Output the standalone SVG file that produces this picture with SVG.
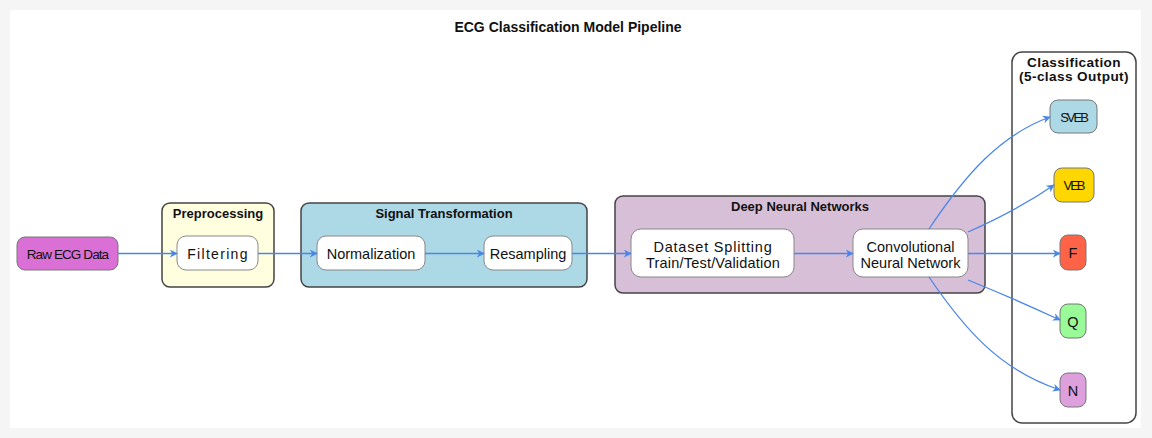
<svg xmlns="http://www.w3.org/2000/svg" width="1152" height="438" viewBox="0 0 1152 438">
<defs>
<marker id="ah" viewBox="0 0 10 10" refX="9" refY="5" markerWidth="8" markerHeight="8" markerUnits="userSpaceOnUse" orient="auto">
<path d="M0,0 L10,5 L0,10 L3,5 z" fill="#4a86e8"/>
</marker>
<style>
text{font-family:"Liberation Sans",Arial,sans-serif;fill:#111}
.cl{stroke:#444;stroke-width:1.5}
.nd{stroke:#777;stroke-width:1}
.wn{fill:#fff;stroke:#888;stroke-width:1}
.ct{font-size:13px;font-weight:bold;text-anchor:middle}
.nt{font-size:14.5px;text-anchor:middle}
.e{fill:none;stroke:#4a86e8;stroke-width:1.3;marker-end:url(#ah)}
</style>
</defs>
<rect x="0" y="0" width="1152" height="438" fill="#f5f5f5"/>
<rect x="10" y="10" width="1131" height="418" fill="#ffffff"/>
<text x="568" y="32" class="ct" style="font-size:14px">ECG Classification Model Pipeline</text>

<g id="preprocessing">
<rect x="162" y="203" width="112" height="84" rx="8" fill="#ffffe0" class="cl"/>
<text x="218" y="218" class="ct">Preprocessing</text>
</g>
<g id="signal_transformation">
<rect x="301" y="203" width="286" height="84" rx="8" fill="#add8e6" class="cl"/>
<text x="444" y="218" class="ct">Signal Transformation</text>
</g>
<g id="deep_neural_networks">
<rect x="615" y="196" width="370" height="97" rx="8" fill="#d8bfd8" class="cl"/>
<text x="800" y="211" class="ct">Deep Neural Networks</text>
</g>
<g id="classification">
<rect x="1012" y="52" width="124" height="371" rx="10" fill="#ffffff" class="cl"/>
<text x="1074" y="67" class="ct" style="font-size:13.6px" letter-spacing="0.4">Classification</text>
<text x="1074" y="81" class="ct" style="font-size:13.6px" letter-spacing="0.4">(5-class Output)</text>
</g>

<g id="raw_ecg">
<rect x="17" y="237" width="101" height="33" rx="8" fill="#da70d6" class="nd"/>
<text x="67.5" y="258.5" class="nt" style="font-size:13.5px" letter-spacing="-0.9">Raw ECG Data</text>
</g>
<g id="filtering">
<rect x="177" y="236" width="81" height="34" rx="9" class="wn"/>
<text x="218" y="258.5" class="nt" style="font-size:14px" letter-spacing="1.3">Filtering</text>
</g>
<g id="normalization">
<rect x="317" y="236" width="108" height="34" rx="9" class="wn"/>
<text x="371" y="258.5" class="nt">Normalization</text>
</g>
<g id="resampling">
<rect x="484" y="236" width="88" height="34" rx="9" class="wn"/>
<text x="528" y="258.5" class="nt">Resampling</text>
</g>
<g id="dataset_splitting">
<rect x="631" y="229" width="163" height="48" rx="10" class="wn"/>
<text x="713" y="251.5" class="nt" letter-spacing="0.8">Dataset Splitting</text>
<text x="713" y="268" class="nt" letter-spacing="0.2">Train/Test/Validation</text>
</g>
<g id="cnn">
<rect x="853" y="229" width="115" height="48" rx="10" class="wn"/>
<text x="910.5" y="251.5" class="nt">Convolutional</text>
<text x="910.5" y="268" class="nt">Neural Network</text>
</g>
<g id="sveb">
<rect x="1050" y="100" width="47" height="33" rx="8" fill="#add8e6" class="nd"/>
<text x="1073.5" y="121.5" class="nt" style="font-size:13px" letter-spacing="-2">SVEB</text>
</g>
<g id="veb">
<rect x="1054" y="168" width="40" height="34" rx="8" fill="#ffd700" class="nd"/>
<text x="1073.5" y="190" class="nt" style="font-size:13px" letter-spacing="-2">VEB</text>
</g>
<g id="f">
<rect x="1060" y="235" width="26" height="35" rx="8" fill="#ff6347" class="nd"/>
<text x="1073" y="258" class="nt">F</text>
</g>
<g id="q">
<rect x="1060" y="304" width="26" height="34" rx="8" fill="#98fb98" class="nd"/>
<text x="1073" y="326.5" class="nt">Q</text>
</g>
<g id="n">
<rect x="1060" y="373" width="26" height="34" rx="8" fill="#dda0dd" class="nd"/>
<text x="1073" y="395.5" class="nt">N</text>
</g>

<g id="connectors">
<path class="e" d="M118,253.5 L177,253.5"/>
<path class="e" d="M258,253.5 L317,253.5"/>
<path class="e" d="M425,253.5 L484,253.5"/>
<path class="e" d="M572,253.5 L631,253.5"/>
<path class="e" d="M794,253.5 L853,253.5"/>
<path class="e" d="M929,229 C965,175 1000,135 1050,117"/>
<path class="e" d="M968,232 C995,220 1025,205 1054,185"/>
<path class="e" d="M968,253.5 L1060,253.5"/>
<path class="e" d="M968,280 C1000,293 1030,306 1060,320"/>
<path class="e" d="M929,277 C965,330 1000,370 1060,390"/>
</g>
</svg>
